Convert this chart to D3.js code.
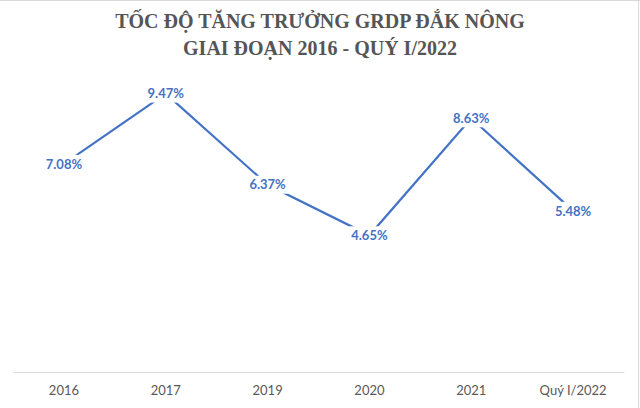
<!DOCTYPE html>
<html><head><meta charset="utf-8">
<script src="https://cdn.jsdelivr.net/npm/d3@7"></script>
<style>html,body{margin:0;padding:0;background:#fff;}svg{display:block;}</style>
</head><body>
<svg id="chart" width="640" height="408"></svg>
<script>
const categories = ["2016", "2017", "2019", "2020", "2021", "Quý I/2022"];
const growth = [7.08, 9.47, 6.37, 4.65, 8.63, 5.48];
const titleLines = ["TỐC ĐỘ TĂNG TRƯỞNG GRDP ĐẮK NÔNG", "GIAI ĐOẠN 2016 - QUÝ I/2022"];

const svg = d3.select("#chart");
const W = 640, H = 408;
const m = {left: 13, right: 16, top: 78, bottom: 36};

svg.append("rect").attr("x", 0).attr("y", 0).attr("width", W).attr("height", H).attr("fill", "#fff");
// frame
svg.append("line").attr("x1", 0).attr("x2", W).attr("y1", 0.5).attr("y2", 0.5).attr("stroke", "#d9d9d9");
svg.append("line").attr("x1", 638.5).attr("x2", 638.5).attr("y1", 0).attr("y2", H).attr("stroke", "#d9d9d9");

const x = d3.scaleBand().domain(categories).range([m.left, W - m.right]);
const y = d3.scaleLinear().domain([0, 10]).range([H - m.bottom, m.top]);

// title
svg.append("g").selectAll("text").data(titleLines).join("text")
  .attr("x", 320).attr("y", (d, i) => 28 + i * 27)
  .attr("text-anchor", "middle")
  .attr("font-family", "'Liberation Serif', 'Times New Roman', serif")
  .attr("font-weight", "bold").attr("font-size", 20)
  .attr("fill", "#555")
  .text(d => d);

// x axis
const xAxis = svg.append("g").attr("transform", `translate(0,${y(0)})`)
  .call(d3.axisBottom(x).tickSize(0).tickPadding(14));
xAxis.select(".domain").attr("stroke", "#d9d9d9").attr("stroke-width", 1);
xAxis.selectAll("text").attr("font-family", "Lato, 'Open Sans', sans-serif")
  .attr("font-size", 13).attr("fill", "#595959");

const cx = d => x(d) + x.bandwidth() / 2;
const pts = categories.map((c, i) => [cx(c), y(growth[i])]);

svg.append("path").datum(pts)
  .attr("d", d3.line())
  .attr("fill", "none").attr("stroke", "#4472C4").attr("stroke-width", 2.2);

const lbl = svg.append("g").selectAll("g").data(pts).join("g")
  .attr("transform", d => `translate(${d[0]},${d[1]})`);
lbl.append("rect").attr("x", -21).attr("y", -9).attr("width", 42).attr("height", 18).attr("fill", "#fff");
lbl.append("text").attr("text-anchor", "middle").attr("dy", "0.36em")
  .attr("font-family", "Lato, 'Open Sans', sans-serif").attr("font-weight", "bold")
  .attr("font-size", 13).attr("fill", "#4472C4")
  .text((d, i) => growth[i].toFixed(2) + "%");
</script>
</body></html>
